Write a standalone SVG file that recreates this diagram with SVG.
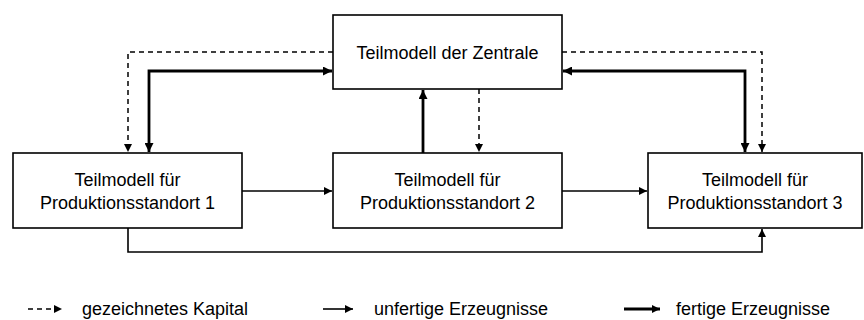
<svg xmlns="http://www.w3.org/2000/svg" width="864" height="320" viewBox="0 0 864 320">
  <style>
    .box { fill: #fff; stroke: #000; stroke-width: 1.6; }
    .lbl { font-family: "Liberation Sans", Arial, sans-serif; font-size: 18px; fill: #000; text-anchor: middle; }
    .leg { font-family: "Liberation Sans", Arial, sans-serif; font-size: 18px; fill: #000; }
    .dash { fill: none; stroke: #000; stroke-width: 1.5; stroke-dasharray: 5 4; }
    .thin { fill: none; stroke: #000; stroke-width: 1.6; }
    .thick { fill: none; stroke: #000; stroke-width: 2.8; }
  </style>
  <defs>
    <marker id="ah" viewBox="0 0 10 10" refX="10" refY="5" markerWidth="8" markerHeight="8" markerUnits="userSpaceOnUse" orient="auto-start-reverse">
      <path d="M0,0 L10,5 L0,10 Z" fill="#000"/>
    </marker>
    <marker id="ahs" viewBox="0 0 10 10" refX="10" refY="5" markerWidth="9" markerHeight="9" markerUnits="userSpaceOnUse" orient="auto-start-reverse">
      <path d="M0,0 L10,5 L0,10 Z" fill="#000"/>
    </marker>
  </defs>

  <g id="connectors">
    <!-- subscribed capital (dashed) -->
    <path class="dash" d="M333,52 H128 V152" marker-end="url(#ah)"/>
    <path class="dash" d="M562,52 H762 V152" marker-end="url(#ah)"/>
    <path class="dash" d="M479,89 V152" marker-end="url(#ah)"/>
    <!-- finished goods (thick) -->
    <path class="thick" d="M332,71 H149 V152" marker-start="url(#ahs)" marker-end="url(#ahs)"/>
    <path class="thick" d="M563,71 H745 V152" marker-start="url(#ahs)" marker-end="url(#ahs)"/>
    <path class="thick" d="M423,153 V90" marker-end="url(#ahs)"/>
    <!-- unfinished goods (thin) -->
    <path class="thin" d="M242,191 H332" marker-end="url(#ah)"/>
    <path class="thin" d="M562,191 H647" marker-end="url(#ah)"/>
    <path class="thin" d="M128,228 V252 H762 V229" marker-end="url(#ah)"/>
  </g>

  <g id="zentrale">
    <rect class="box" x="333" y="15" width="229" height="74"/>
    <text class="lbl" x="447.5" y="59">Teilmodell der Zentrale</text>
  </g>
  <g id="standort1">
    <rect class="box" x="13" y="153" width="229" height="75"/>
    <text class="lbl" x="127.5" y="186">Teilmodell für</text>
    <text class="lbl" x="127.5" y="209">Produktionsstandort 1</text>
  </g>
  <g id="standort2">
    <rect class="box" x="333" y="153" width="229" height="75"/>
    <text class="lbl" x="447.5" y="186">Teilmodell für</text>
    <text class="lbl" x="447.5" y="209">Produktionsstandort 2</text>
  </g>
  <g id="standort3">
    <rect class="box" x="648" y="153" width="214" height="75"/>
    <text class="lbl" x="755" y="186">Teilmodell für</text>
    <text class="lbl" x="755" y="209">Produktionsstandort 3</text>
  </g>

  <g id="legend">
    <path class="dash" d="M28,309 H62" marker-end="url(#ah)"/>
    <text class="leg" x="82" y="315">gezeichnetes Kapital</text>
    <path class="thin" d="M323,309 H353" marker-end="url(#ah)"/>
    <text class="leg" x="374" y="315">unfertige Erzeugnisse</text>
    <path class="thick" d="M624,309 H660" marker-end="url(#ah)"/>
    <text class="leg" x="676" y="315">fertige Erzeugnisse</text>
  </g>
</svg>
